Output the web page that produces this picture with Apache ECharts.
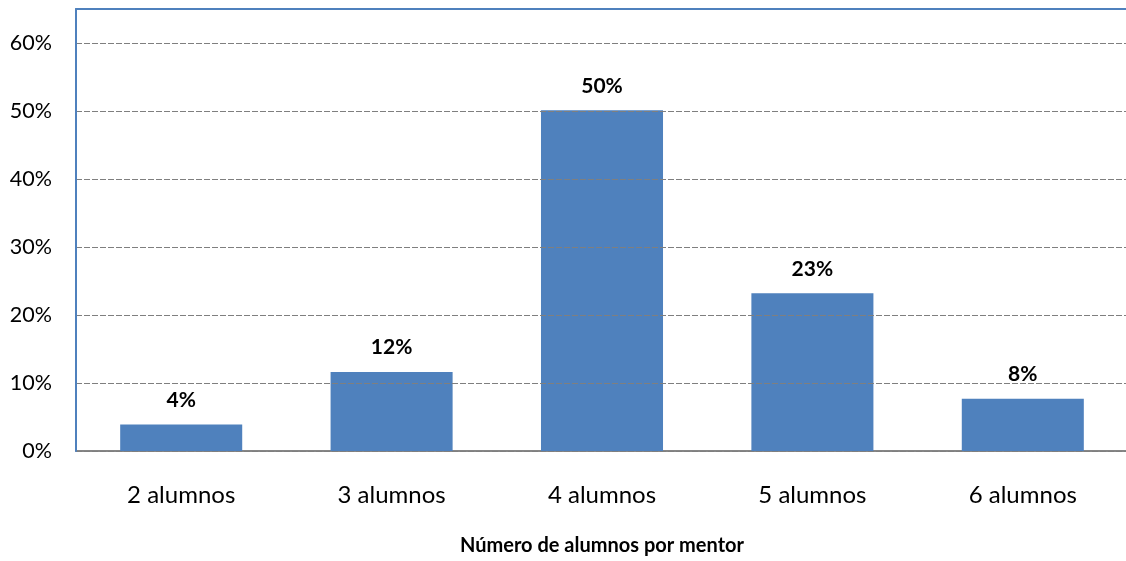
<!DOCTYPE html>
<html>
<head>
<meta charset="utf-8">
<script src="https://cdn.jsdelivr.net/npm/echarts@6/dist/echarts.min.js"></script>
<style>
  html, body { margin: 0; padding: 0; background: #fff; }
  #chart { width: 1126px; height: 561px; }
</style>
</head>
<body>
<div id="chart"></div>
<script>
let categories = ['2 alumnos', '3 alumnos', '4 alumnos', '5 alumnos', '6 alumnos'];
let shares = [3.9, 11.6, 50.1, 23.2, 7.7];
let yTicks = [0, 10, 20, 30, 40, 50, 60];
let axisTitle = 'Número de alumnos por mentor';

let font = 'Lato, "Open Sans", sans-serif';
let chart = echarts.init(document.getElementById('chart'), null, { renderer: 'canvas' });

let option = {
  animation: false,
  grid: {
    left: 76,
    right: -2,
    top: 9,
    bottom: 110,
    outerBoundsMode: 'none',
    containLabel: false,
    show: true,
    borderColor: '#4F81BD',
    borderWidth: 1
  },
  xAxis: [{
    type: 'category',
    data: categories,
    name: axisTitle,
    nameLocation: 'middle',
    nameGap: 85,
    nameTextStyle: {
      fontFamily: font,
      fontWeight: 'bold',
      fontSize: 20,
      color: '#000'
    },
    axisLine: { show: true, lineStyle: { color: '#868686', width: 2 } },
    axisTick: { show: false },
    axisLabel: {
      fontFamily: font,
      fontSize: 24,
      color: '#000',
      margin: 32
    }
  }, {
    // top edge of the plot box
    type: 'category',
    position: 'top',
    data: categories,
    z: 10,
    axisLine: { show: true, lineStyle: { color: '#4F81BD', width: 2 } },
    axisTick: { show: false },
    axisLabel: { show: false }
  }],
  yAxis: {
    type: 'value',
    min: 0,
    max: 65,
    interval: 10,
    z: 10,
    axisLine: { show: true, lineStyle: { color: '#4F81BD', width: 2 } },
    axisTick: { show: false },
    axisLabel: {
      fontFamily: font,
      fontSize: 21.5,
      color: '#000',
      margin: 24,
      formatter: function(v) {
        return yTicks.indexOf(v) >= 0 ? v + '%' : '';
      }
    },
    splitLine: {
      show: true,
      lineStyle: { color: '#7f7f7f', type: [6, 2], width: 1.2 }
    }
  },
  series: [{
    type: 'bar',
    data: shares,
    barWidth: '58%',
    itemStyle: { color: '#4F81BD' },
    label: {
      show: true,
      position: 'top',
      distance: 14,
      fontFamily: font,
      fontWeight: 'bold',
      fontSize: 21,
      color: '#000',
      formatter: function(p) {
        return Math.round(p.value) + '%';
      }
    }
  }]
};

chart.setOption(option);
</script>
</body>
</html>
